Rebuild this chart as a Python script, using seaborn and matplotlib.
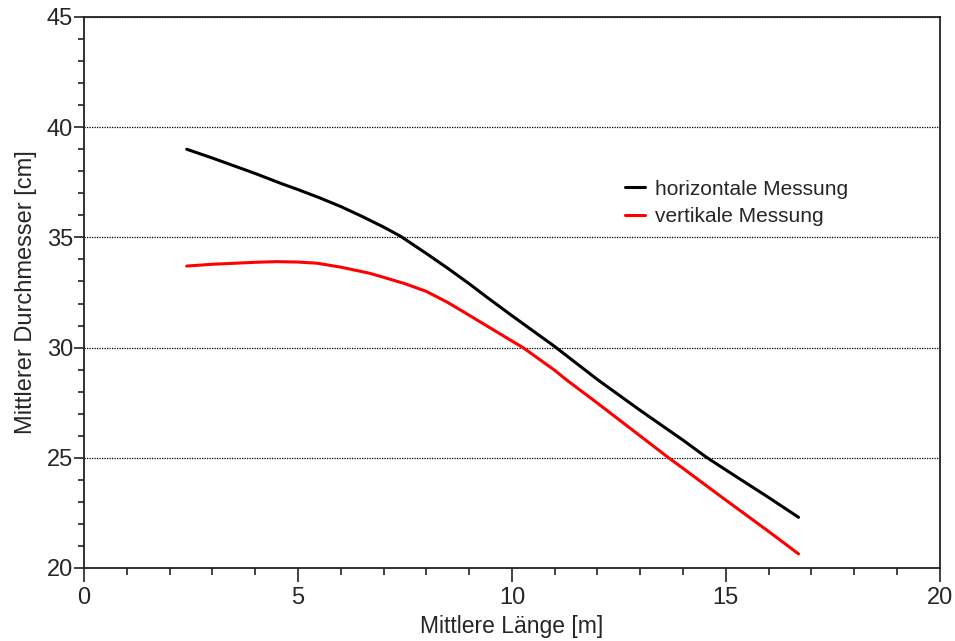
import numpy as np
import pandas as pd
import matplotlib
matplotlib.use("Agg")
import matplotlib.pyplot as plt
import seaborn as sns
from matplotlib.ticker import MultipleLocator

# Data
laenge_h = [2.4, 3, 4, 4.6, 5, 5.5, 6, 6.5, 7, 7.4, 8, 8.5, 9, 9.4, 10, 11, 12, 13, 14, 14.55, 15, 16, 16.7]
durchm_h = [39.0, 38.6, 37.9, 37.45, 37.17, 36.8, 36.4, 35.95, 35.47, 35.05, 34.27, 33.6, 32.9, 32.31, 31.45, 30.05, 28.55, 27.15, 25.8, 25.02, 24.45, 23.2, 22.3]

laenge_v = [2.4, 3, 4, 4.5, 5, 5.44, 6, 6.68, 7, 7.5, 8, 8.5, 9, 10, 10.26, 11, 11.28, 12, 13, 13.65, 14, 15, 16, 16.7]
durchm_v = [33.7, 33.78, 33.87, 33.9, 33.88, 33.83, 33.65, 33.37, 33.19, 32.9, 32.55, 32.05, 31.47, 30.3, 30.0, 28.97, 28.53, 27.48, 25.99, 25.02, 24.52, 23.08, 21.66, 20.64]

series_names = ["horizontale Messung", "vertikale Messung"]
colors = {"horizontale Messung": "#000000", "vertikale Messung": "#ff0000"}

df = pd.concat([
    pd.DataFrame({"Laenge": laenge_h, "Durchmesser": durchm_h, "Messung": series_names[0]}),
    pd.DataFrame({"Laenge": laenge_v, "Durchmesser": durchm_v, "Messung": series_names[1]}),
])

sns.set_style("ticks")
plt.rcParams["font.family"] = ["Liberation Sans", "DejaVu Sans"]

fig = plt.figure(figsize=(9.55, 6.41), dpi=100)
ax = fig.add_axes([0.088, 0.1139, 0.896, 0.8596])

sns.lineplot(data=df, x="Laenge", y="Durchmesser", hue="Messung", palette=colors,
             linewidth=2.2, sort=False, estimator=None, ax=ax)

ax.set_xlim(0, 20)
ax.set_ylim(20, 45)
ax.xaxis.set_major_locator(MultipleLocator(5))
ax.xaxis.set_minor_locator(MultipleLocator(1))
ax.yaxis.set_major_locator(MultipleLocator(5))
ax.yaxis.set_minor_locator(MultipleLocator(1))

ax.tick_params(axis="x", which="major", length=10, width=1.2, color="#222222", labelsize=17, pad=4)
ax.tick_params(axis="x", which="minor", length=5, width=1.2, color="#222222")
ax.tick_params(axis="y", which="major", length=7, width=1.2, color="#222222", labelsize=17, pad=1)
ax.tick_params(axis="y", which="minor", length=4, width=1.2, color="#222222")

for s in ax.spines.values():
    s.set_visible(True)
    s.set_linewidth(1.3)
    s.set_color("#222222")

ax.yaxis.grid(True, which="major", linestyle=(0, (1, 1)), linewidth=0.9, color="black")
ax.xaxis.grid(False)

ax.set_xlabel("Mittlere Länge [m]", fontsize=16.5, labelpad=4)
ax.set_ylabel("Mittlerer Durchmesser [cm]", fontsize=17, labelpad=7)

ax.legend(title=None, frameon=False, fontsize=15, loc="upper left",
          bbox_to_anchor=(0.622, 0.72), handlelength=1.0, handletextpad=0.45,
          labelspacing=0.4, borderaxespad=0)

fig.savefig("out.png", dpi=100)
